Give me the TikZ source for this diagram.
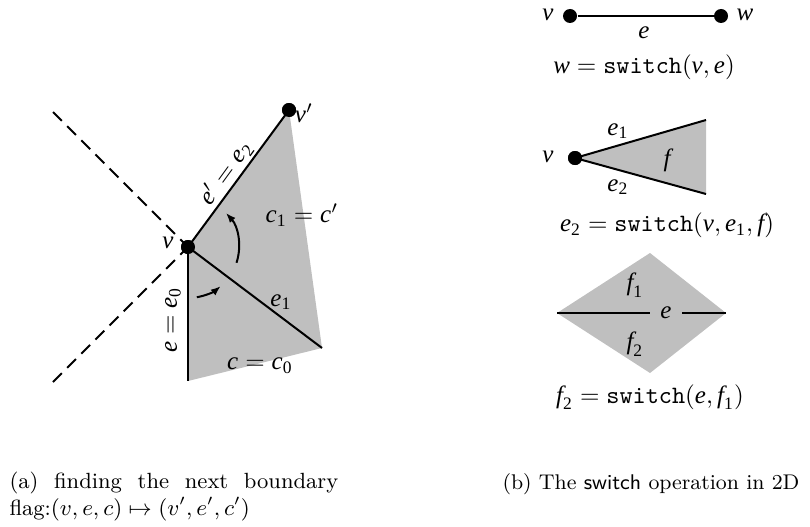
\documentclass[tikz,border=0pt]{standalone}
\usepackage{fontspec}
\usepackage{amsmath}
\newfontfamily\tms[ItalicFont={Liberation Serif Italic}]{Liberation Serif}
\newcommand\I[1]{\mbox{\tms\itshape #1}}
\newcommand\Sb[1]{_{\mbox{\tms\fontsize{7}{8}\selectfont #1}}}
\newcommand\Prm{^{\prime}}
\usetikzlibrary{arrows.meta}
\begin{document}
\begin{tikzpicture}[x=0.4pt,y=-0.4pt,
  edge/.style={line width=0.8pt},
  dashline/.style={line width=0.8pt,dash pattern=on 5pt off 3pt},
  dot/.style={circle,fill=black,inner sep=0pt,minimum size=5.6pt},
  lbl/.style={inner sep=1pt},
  turn/.style={line width=0.8pt,-{Latex[length=4pt,width=3pt]}},
  capt/.style={inner sep=0pt,font=\fontsize{8.8}{10.8}\selectfont},
  captb/.style={inner sep=0pt,font=\fontsize{8.5}{10.8}\selectfont}]
\useasboundingbox (0,0) rectangle (810,526);
% ---------- (a) ----------
\coordinate (cb) at (188,381);
\coordinate (ce) at (322,348);
\node[dot] (v) at (188,247) {};
\node[dot] (vp) at (289,110) {};
\coordinate (d1) at (53,112);
\coordinate (d2) at (53,382);
\fill[lightgray] (v.center) -- (vp.center) -- (ce) -- (cb) -- cycle;
\draw[dashline] (d1) -- (v.center);
\draw[dashline] (d2) -- (v.center);
\draw[edge] (v.center) -- (vp.center);
\draw[edge] (v.center) -- (ce);
\draw[edge] (v.center) -- (cb);
\node[dot] at (v) {};
\node[dot] at (vp) {};
\draw[turn] ([shift={(80:51)}]v.center) arc[start angle=80,end angle=50,radius=51];
\draw[turn] ([shift={(18:51)}]v.center) arc[start angle=18,end angle=-42,radius=51];
\node[lbl] (lv) at (168,243) {$\I{v}$};
\node[lbl] (lvp) at (304,113) {$\I{v}\Prm$};
\node[lbl,rotate=54,anchor=south] (lep) at (237,181) {$\I{e}\Prm=\I{e}\Sb{2}$};
\node[lbl] (lc1) at (302,215) {$\I{c}\Sb{1}=\I{c}\Prm$};
\node[lbl] (le1) at (281,302) {$\I{e}\Sb{1}$};
\node[lbl,rotate=90] (le0) at (173,320) {$\I{e}=\I{e}\Sb{0}$};
\node[lbl] (lc0) at (260,366) {$\I{c}=\I{c}\Sb{0}$};
\node[capt,anchor=base west] (capa) at (9,488) {\parbox[t]{131.5pt}{(a) finding the next boundary\linebreak flag:$(v,e,c)\mapsto(v',e',c')$}};
% ---------- (b) ----------
\node[dot] (bv) at (570,16) {};
\node[dot] (bw) at (721,16) {};
\draw[edge] (bv) -- (bw);
\node[lbl] at (548,15) {$\I{v}$};
\node[lbl] at (745,15) {$\I{w}$};
\node[lbl] at (644,33) {$\I{e}$};
\node[lbl] at (644,67) {$\I{w}=\mathtt{switch}(\I{v},\I{e})$};
% triangle
\node[dot] (tv) at (575,158) {};
\coordinate (tt) at (706,120);
\coordinate (tb) at (706,194);
\fill[lightgray] (tv.center) -- (tt) -- (tb) -- cycle;
\draw[edge] (tt) -- (tv.center) -- (tb);
\node[dot] at (tv) {};
\node[lbl] at (548,157) {$\I{v}$};
\node[lbl] at (618,131) {$\I{e}\Sb{1}$};
\node[lbl] at (618,187) {$\I{e}\Sb{2}$};
\node[lbl] at (667,160) {$\I{f}$};
\node[lbl] at (667,225) {$\I{e}\Sb{2}=\mathtt{switch}(\I{v},\I{e}\Sb{1},\I{f})$};
% diamond
\coordinate (dl) at (557,313);
\coordinate (dr) at (726,313);
\coordinate (dt) at (650,253);
\coordinate (db) at (650,373);
\fill[lightgray] (dl) -- (dt) -- (dr) -- (db) -- cycle;
\draw[edge] (dl) -- (dr);
\node[fill=lightgray,inner sep=0pt,minimum width=13pt,minimum height=8pt] (de) at (666,313) {$\I{e}$};
\node[lbl] at (635,285) {$\I{f}\Sb{1}$};
\node[lbl] at (635,344) {$\I{f}\Sb{2}$};
\node[lbl] at (650,397) {$\I{f}\Sb{2}=\mathtt{switch}(\I{e},\I{f}\Sb{1})$};
\node[captb,anchor=base west] (capb) at (502,489) {(b) The \textsf{switch} operation in 2D};
\end{tikzpicture}
\end{document}
